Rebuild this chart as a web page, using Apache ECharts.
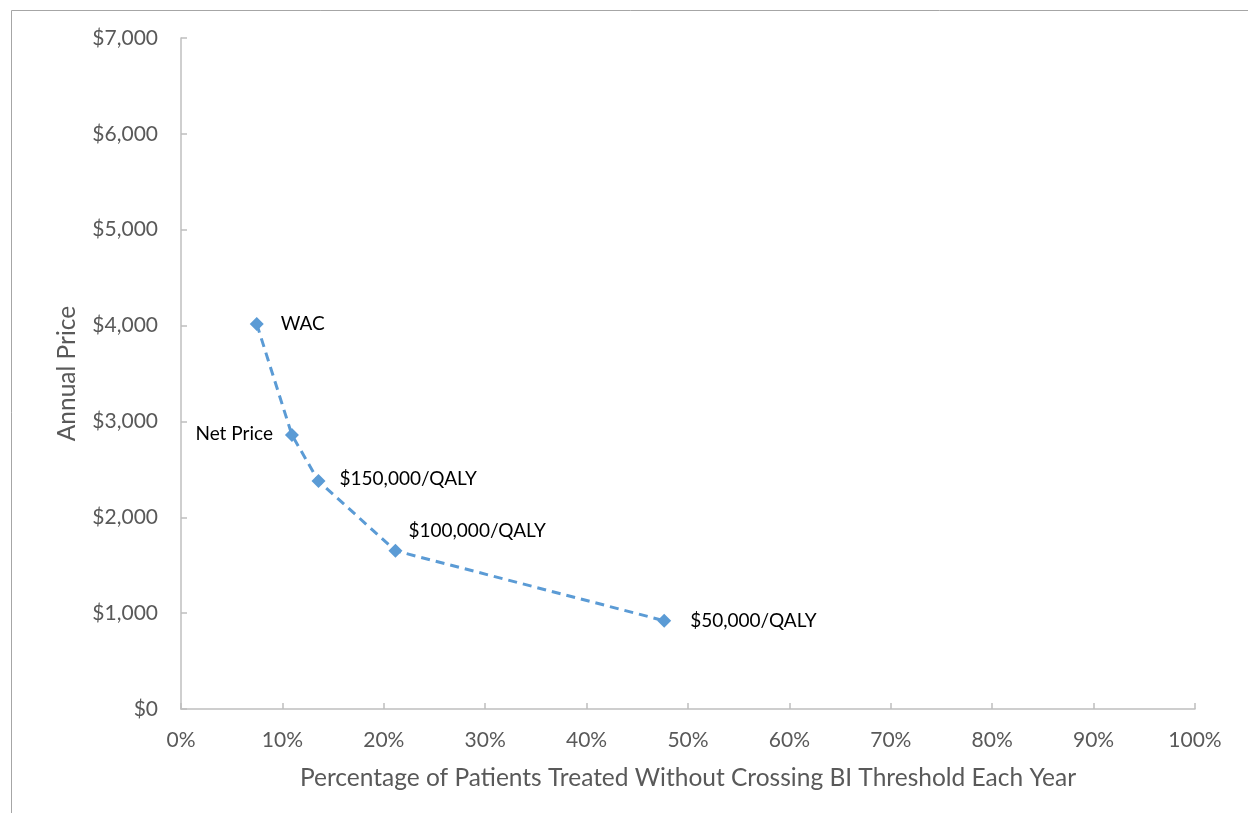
<!DOCTYPE html>
<html>
<head>
<meta charset="utf-8">
<script src="https://cdn.jsdelivr.net/npm/echarts@6/dist/echarts.min.js"></script>
<style>
html,body{margin:0;padding:0;background:#fff;}
#chart{width:1248px;height:813px;}
</style>
</head>
<body>
<div id="chart"></div>
<script>
// Data
var pointNames = ['WAC', 'Net Price', '$150,000/QALY', '$100,000/QALY', '$50,000/QALY'];
var pctTreated = [7.47, 10.94, 13.56, 21.15, 47.65];
var annualPrice = [4016, 2858, 2378, 1651, 921];
var xTicks = [0, 10, 20, 30, 40, 50, 60, 70, 80, 90, 100];
var yTicks = [0, 1000, 2000, 3000, 4000, 5000, 6000, 7000];

// Label placement (style only)
var labelStyle = {
  'WAC': {position: 'right', offset: [12, 0]},
  'Net Price': {position: 'left', offset: [-7, -1]},
  '$150,000/QALY': {position: 'right', offset: [9, -2]},
  '$100,000/QALY': {position: 'right', offset: [1, -20]},
  '$50,000/QALY': {position: 'right', offset: [14, 0]}
};

var seriesData = pointNames.map(function (n, i) {
  var ls = labelStyle[n];
  return {
    value: [pctTreated[i], annualPrice[i]],
    name: n,
    label: {show: true, formatter: n, position: ls.position, offset: ls.offset}
  };
});

var font = 'Lato, "Open Sans", sans-serif';
var chart = echarts.init(document.getElementById('chart'), null, {renderer: 'canvas'});
chart.setOption({
  animation: false,
  backgroundColor: '#ffffff',
  graphic: [{
    type: 'rect',
    shape: {x: 11.5, y: 10.5, width: 1400, height: 1000},
    style: {fill: 'none', stroke: '#a6a6a6', lineWidth: 1},
    silent: true, z: -1
  }],
  grid: {left: 181, right: 53, top: 38, bottom: 104, containLabel: false},
  xAxis: {
    type: 'value',
    min: xTicks[0], max: xTicks[xTicks.length - 1], interval: 10,
    name: 'Percentage of Patients Treated Without Crossing BI Threshold Each Year',
    nameLocation: 'middle', nameGap: 57,
    nameTextStyle: {fontFamily: font, fontSize: 24.5, color: '#595959'},
    axisLine: {show: true, lineStyle: {color: '#bfbfbf', width: 1.5}},
    axisTick: {show: true, inside: true, length: 6, lineStyle: {color: '#bfbfbf', width: 1.5}},
    axisLabel: {formatter: '{value}%', fontFamily: font, fontSize: 21, color: '#595959', margin: 21},
    splitLine: {show: false}
  },
  yAxis: {
    type: 'value',
    min: yTicks[0], max: yTicks[yTicks.length - 1], interval: 1000,
    name: 'Annual Price',
    nameLocation: 'middle', nameGap: 101, nameRotate: 90,
    nameTextStyle: {fontFamily: font, fontSize: 24.5, color: '#595959'},
    axisLine: {show: true, lineStyle: {color: '#bfbfbf', width: 1.5}},
    axisTick: {show: true, inside: true, length: 6, lineStyle: {color: '#bfbfbf', width: 1.5}},
    axisLabel: {
      formatter: function (v) { return '$' + v.toLocaleString('en-US'); },
      fontFamily: font, fontSize: 21, color: '#595959', margin: 23
    },
    splitLine: {show: false}
  },
  series: [{
    type: 'line',
    data: seriesData,
    symbol: 'diamond',
    symbolSize: 14,
    itemStyle: {color: '#5b9bd5'},
    lineStyle: {color: '#5b9bd5', width: 3, type: [9, 6]},
    label: {fontFamily: font, fontSize: 19, color: '#000000'},
    smooth: false
  }]
});
</script>
</body>
</html>
